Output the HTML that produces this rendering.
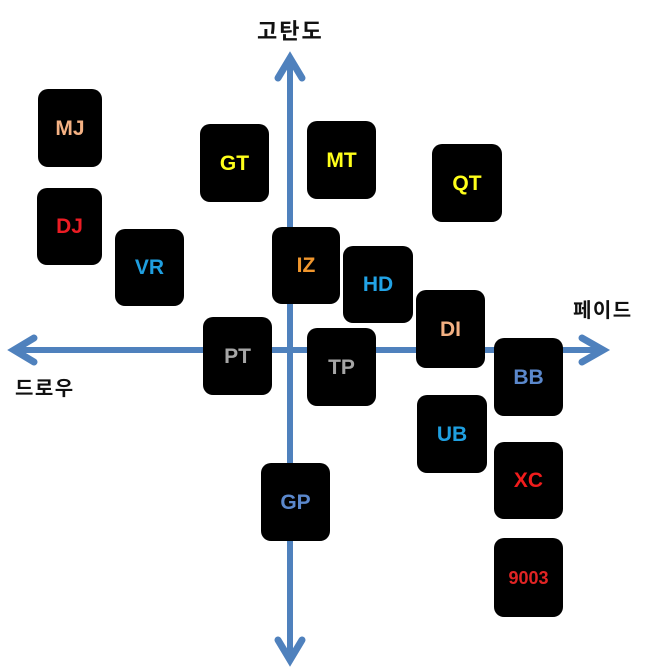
<!DOCTYPE html>
<html>
<head>
<meta charset="utf-8">
<style>
  html,body{margin:0;padding:0;background:#fff;}
  body{width:659px;height:668px;position:relative;overflow:hidden;}
  svg.axes{position:absolute;left:0;top:0;}
  .b{position:absolute;background:#000;border-radius:10px;display:flex;align-items:center;justify-content:center;
     font-family:"Liberation Sans",sans-serif;font-weight:bold;font-size:21px;line-height:1;}
  .k{position:absolute;font-family:"Liberation Sans","Noto Sans CJK KR",sans-serif;font-weight:bold;color:#111;line-height:1;white-space:nowrap;}
</style>
</head>
<body>
<svg class="axes" width="659" height="668" viewBox="0 0 659 668">
  <g stroke="#4f81bd" fill="none">
    <line x1="290" y1="60" x2="290" y2="659" stroke-width="6"/>
    <line x1="15" y1="350" x2="602" y2="350" stroke-width="6"/>
    <polyline points="278,78 290,58 302,78" stroke-width="7" stroke-linecap="round" stroke-linejoin="miter"/>
    <polyline points="278,640 290,660 302,640" stroke-width="7" stroke-linecap="round" stroke-linejoin="miter"/>
    <polyline points="34,338 14,350 34,362" stroke-width="7" stroke-linecap="round" stroke-linejoin="miter"/>
    <polyline points="582,338 603,350 582,362" stroke-width="7" stroke-linecap="round" stroke-linejoin="miter"/>
  </g>
</svg>

<div class="k" style="left:257px;top:21px;font-size:22px;letter-spacing:2px;">고탄도</div>
<div class="k" style="left:573px;top:301px;font-size:20px;letter-spacing:1.5px;">페이드</div>
<div class="k" style="left:15px;top:379px;font-size:20px;letter-spacing:1.5px;">드로우</div>

<div class="b" style="left:38px;top:89px;width:64px;height:78px;color:#f4b183;">MJ</div>
<div class="b" style="left:37px;top:188px;width:65px;height:77px;color:#ec1c24;">DJ</div>
<div class="b" style="left:200px;top:124px;width:69px;height:78px;color:#ffff1a;">GT</div>
<div class="b" style="left:307px;top:121px;width:69px;height:78px;color:#ffff1a;">MT</div>
<div class="b" style="left:432px;top:144px;width:70px;height:78px;color:#ffff1a;">QT</div>
<div class="b" style="left:115px;top:229px;width:69px;height:77px;color:#1f9fe0;">VR</div>
<div class="b" style="left:272px;top:227px;width:68px;height:77px;color:#f0962d;">IZ</div>
<div class="b" style="left:343px;top:246px;width:70px;height:77px;color:#22a3e6;">HD</div>
<div class="b" style="left:416px;top:290px;width:69px;height:78px;color:#f4b183;">DI</div>
<div class="b" style="left:203px;top:317px;width:69px;height:78px;color:#a6a6a6;">PT</div>
<div class="b" style="left:307px;top:328px;width:69px;height:78px;color:#a6a6a6;">TP</div>
<div class="b" style="left:494px;top:338px;width:69px;height:78px;color:#5b88cc;">BB</div>
<div class="b" style="left:417px;top:395px;width:70px;height:78px;color:#1f9fe0;">UB</div>
<div class="b" style="left:494px;top:442px;width:69px;height:77px;color:#f01c1c;">XC</div>
<div class="b" style="left:261px;top:463px;width:69px;height:78px;color:#5b88cc;">GP</div>
<div class="b" style="left:494px;top:538px;width:69px;height:79px;color:#e02424;font-size:18px;">9003</div>
</body>
</html>
